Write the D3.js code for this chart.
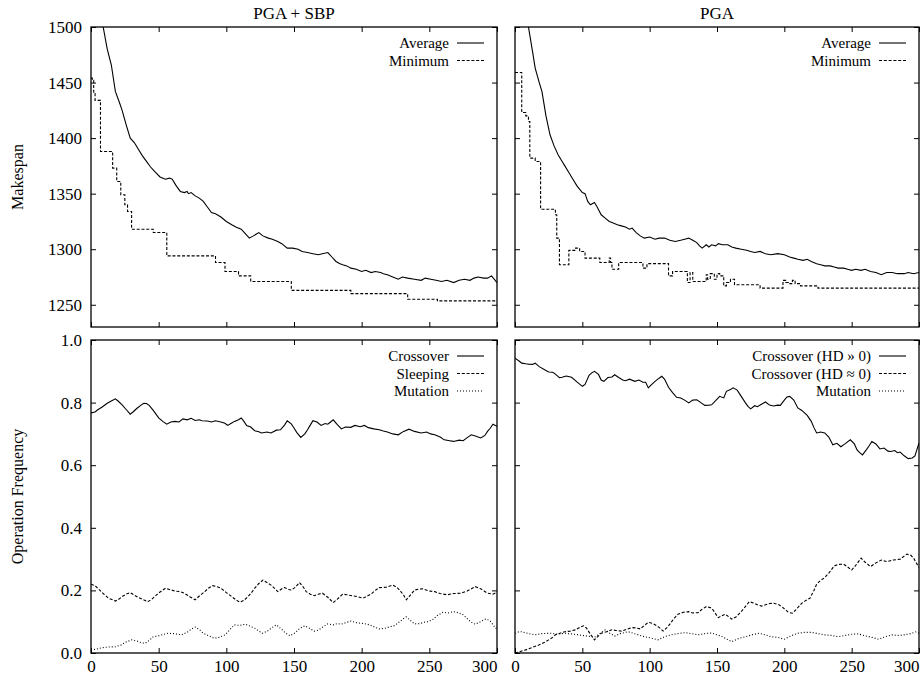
<!DOCTYPE html>
<html>
<head>
<meta charset="utf-8">
<title>PGA + SBP vs PGA</title>
<style>
	body { margin: 0; background: #fff; }
	svg text { font-family: 'Liberation Serif', 'Times New Roman', serif; fill: #000; }
</style>
</head>
<body>
<svg width="921" height="679"></svg>
<script src="https://d3js.org/d3.v7.min.js"></script>
<script>

// ---- data ----
const genTicks = [0, 50, 100, 150, 200, 250, 300];
const makespanTicks = [1250, 1300, 1350, 1400, 1450, 1500];
const freqTicks = [0, 0.2, 0.4, 0.6, 0.8, 1.0];

const sbpAverage = [[0,1660],[4,1570],[7,1520],[9,1500],[12,1480],[15,1466],[18,1442],[21,1432],[23,1425],[26,1412],[29,1400],[32,1396],[35,1390],[38,1384],[41,1379],[44,1374],[47,1370],[51,1365],[55,1363],[58,1364],[60,1363],[63,1357],[66,1352],[69,1351],[71,1352],[72,1350],[74,1351],[77,1348],[80,1346],[83,1343],[86,1338],[89,1333],[92,1332],[96,1329],[100,1325],[104,1322],[107,1320],[111,1318],[114,1314],[117,1310],[120,1312],[124,1315],[127,1312],[131,1310],[134,1309],[138,1307],[141,1305],[145,1301],[149,1301],[153,1300],[156,1298],[160,1297],[164,1296],[168,1295],[171,1296],[175,1297],[178,1293],[181,1289],[184,1287],[186,1286],[189,1285],[192,1283],[196,1282],[200,1280],[203,1281],[207,1279],[210,1280],[214,1279],[216,1278],[219,1277],[223,1275],[227,1273],[230,1275],[234,1274],[239,1273],[244,1272],[247,1274],[251,1273],[255,1272],[259,1271],[263,1272],[268,1270],[272,1272],[276,1273],[280,1272],[283,1274],[286,1275],[290,1274],[293,1274],[296,1276],[300,1270]];

const sbpMinimum = [[0,1454],[1,1452],[2,1440],[3,1434],[6,1434],[7,1388],[15,1388],[16,1373],[19,1361],[22,1349],[25,1340],[27,1334],[30,1318],[45,1318],[46,1315],[55,1315],[56,1294],[91,1294],[92,1288],[99,1280],[109,1276],[118,1271],[147,1271],[148,1263],[191,1263],[192,1260],[233,1260],[234,1255],[255,1255],[256,1253.5],[300,1253.5]];

const pgaAverage = [[0,1700],[5,1590],[8,1530],[10,1500],[13,1478],[15,1463],[18,1450],[20,1442],[23,1420],[26,1403],[29,1393],[32,1385],[35,1379],[37,1375],[40,1369],[43,1363],[46,1357],[50,1351],[52,1350],[54,1343],[56,1340],[59,1342],[61,1338],[64,1331],[67,1328],[70,1325],[72,1324],[76,1322],[79,1321],[82,1320],[85,1318],[87,1319],[90,1315],[93,1312],[96,1310],[100,1311],[104,1309],[107,1310],[111,1310],[115,1308],[119,1307],[123,1308],[126,1309],[129,1310],[132,1308],[135,1306],[137,1303],[139,1301],[142,1304],[144,1302],[146,1304],[149,1303],[151,1305],[154,1304],[158,1304],[161,1302],[164,1301],[168,1300],[172,1299],[175,1298],[178,1297],[182,1298],[186,1296],[190,1295],[195,1296],[200,1295],[204,1293],[207,1292],[210,1291],[214,1290],[217,1291],[220,1289],[224,1287],[227,1286],[230,1285],[234,1285],[237,1284],[240,1283],[244,1283],[247,1282],[250,1281],[253,1282],[257,1281],[260,1282],[264,1280],[268,1279],[272,1277],[276,1279],[280,1279],[284,1278],[289,1278],[292,1279],[296,1278],[300,1279]];

const pgaMinimum = [[0,1459],[5,1423],[8,1420],[10,1415],[11,1382],[15,1379],[19,1336],[30,1331],[31,1310],[33,1286],[38,1286],[40,1299],[45,1301],[48,1298],[52,1292],[63,1288],[70,1292],[71,1288],[72,1282],[77,1288],[94,1288],[95,1283],[98,1287],[111,1287],[114,1276],[117,1280],[126,1280],[128,1270],[130,1279],[132,1271],[141,1271],[142,1277],[143,1273],[145,1278],[148,1273],[150,1278],[152,1276],[155,1267],[157,1270],[160,1273],[163,1268],[182,1265],[199,1272],[201,1270],[203,1269],[206,1272],[208,1269],[212,1267],[225,1265],[300,1265]];

const sbpCrossover = [[0,0.767],[3,0.770],[5,0.777],[8,0.785],[12,0.798],[15,0.805],[18,0.812],[20,0.805],[23,0.793],[26,0.778],[29,0.763],[31,0.770],[34,0.782],[37,0.792],[39,0.798],[41,0.797],[43,0.791],[46,0.775],[50,0.751],[53,0.740],[56,0.731],[59,0.738],[62,0.740],[65,0.738],[68,0.748],[71,0.745],[74,0.750],[77,0.743],[80,0.745],[82,0.742],[86,0.741],[89,0.738],[92,0.742],[96,0.738],[99,0.734],[101,0.727],[104,0.735],[106,0.740],[109,0.745],[111,0.751],[113,0.740],[115,0.727],[118,0.722],[121,0.710],[124,0.707],[126,0.703],[130,0.706],[133,0.703],[137,0.712],[140,0.713],[143,0.728],[145,0.742],[148,0.732],[150,0.719],[152,0.705],[155,0.689],[158,0.700],[160,0.713],[162,0.728],[164,0.742],[167,0.738],[170,0.727],[173,0.733],[175,0.731],[177,0.738],[179,0.745],[182,0.730],[185,0.716],[188,0.722],[192,0.721],[195,0.727],[199,0.723],[202,0.727],[205,0.720],[209,0.716],[213,0.713],[216,0.709],[219,0.706],[223,0.700],[227,0.697],[231,0.708],[235,0.715],[239,0.708],[244,0.703],[248,0.706],[251,0.700],[254,0.697],[258,0.690],[261,0.681],[265,0.678],[268,0.676],[272,0.680],[275,0.678],[278,0.688],[281,0.697],[284,0.693],[288,0.687],[291,0.695],[293,0.708],[295,0.718],[297,0.731],[300,0.724]];

const sbpSleeping = [[0,0.220],[3,0.215],[5,0.207],[9,0.190],[13,0.175],[16,0.170],[18,0.166],[21,0.173],[23,0.180],[26,0.188],[29,0.193],[32,0.185],[35,0.177],[38,0.172],[42,0.164],[45,0.172],[47,0.180],[51,0.195],[55,0.207],[58,0.203],[62,0.198],[66,0.196],[69,0.191],[73,0.180],[77,0.170],[80,0.182],[84,0.196],[87,0.208],[90,0.215],[93,0.212],[96,0.207],[100,0.193],[104,0.180],[107,0.170],[110,0.162],[113,0.168],[116,0.180],[119,0.195],[121,0.207],[124,0.222],[127,0.233],[130,0.225],[133,0.217],[136,0.205],[138,0.196],[141,0.205],[143,0.209],[146,0.203],[148,0.201],[151,0.210],[154,0.225],[157,0.210],[159,0.196],[162,0.188],[165,0.183],[168,0.188],[171,0.191],[175,0.178],[179,0.161],[182,0.172],[186,0.188],[189,0.186],[193,0.183],[197,0.180],[201,0.175],[204,0.182],[207,0.188],[210,0.200],[213,0.209],[218,0.210],[223,0.217],[226,0.210],[228,0.201],[231,0.185],[233,0.170],[236,0.185],[239,0.201],[242,0.204],[245,0.205],[250,0.198],[254,0.196],[258,0.190],[263,0.186],[268,0.190],[273,0.191],[278,0.198],[284,0.212],[288,0.205],[293,0.191],[297,0.188],[300,0.194]];

const sbpMutation = [[0,0.010],[4,0.012],[8,0.017],[13,0.019],[18,0.020],[22,0.025],[26,0.035],[30,0.042],[34,0.038],[37,0.033],[40,0.031],[43,0.040],[46,0.052],[50,0.055],[54,0.060],[57,0.063],[61,0.062],[64,0.060],[67,0.058],[71,0.066],[74,0.076],[77,0.083],[80,0.075],[83,0.063],[87,0.055],[91,0.047],[95,0.050],[99,0.058],[102,0.072],[106,0.090],[110,0.088],[114,0.092],[118,0.085],[121,0.079],[124,0.070],[127,0.063],[131,0.072],[134,0.082],[137,0.090],[141,0.075],[144,0.063],[147,0.055],[151,0.065],[154,0.078],[158,0.087],[161,0.080],[165,0.070],[168,0.073],[172,0.085],[175,0.093],[179,0.090],[182,0.094],[185,0.092],[189,0.098],[192,0.102],[196,0.097],[199,0.095],[202,0.094],[206,0.090],[210,0.082],[213,0.077],[217,0.079],[221,0.084],[224,0.087],[228,0.100],[231,0.110],[233,0.115],[236,0.104],[239,0.093],[243,0.094],[246,0.098],[249,0.100],[253,0.108],[256,0.120],[260,0.130],[264,0.128],[268,0.132],[272,0.128],[275,0.122],[278,0.110],[281,0.098],[284,0.092],[287,0.098],[290,0.106],[292,0.109],[295,0.102],[299,0.079],[300,0.079]];

const pgaCrossoverHigh = [[0,0.942],[3,0.933],[5,0.926],[8,0.924],[10,0.923],[13,0.922],[15,0.926],[18,0.915],[22,0.905],[25,0.898],[28,0.897],[30,0.891],[33,0.880],[35,0.881],[38,0.885],[42,0.881],[46,0.866],[50,0.852],[52,0.858],[55,0.887],[57,0.895],[59,0.900],[62,0.890],[64,0.872],[66,0.868],[69,0.880],[72,0.882],[74,0.889],[77,0.880],[80,0.872],[82,0.870],[85,0.875],[89,0.868],[92,0.872],[95,0.865],[97,0.865],[99,0.847],[101,0.856],[104,0.868],[107,0.878],[109,0.884],[111,0.875],[114,0.849],[117,0.832],[120,0.817],[123,0.815],[126,0.808],[129,0.799],[132,0.808],[135,0.809],[138,0.800],[141,0.791],[144,0.792],[146,0.793],[149,0.806],[152,0.820],[155,0.815],[157,0.836],[160,0.842],[162,0.847],[165,0.840],[168,0.820],[171,0.800],[173,0.788],[175,0.780],[178,0.790],[180,0.787],[183,0.795],[186,0.802],[189,0.792],[192,0.789],[195,0.792],[197,0.791],[200,0.808],[202,0.818],[204,0.820],[207,0.808],[210,0.783],[213,0.775],[217,0.759],[220,0.740],[222,0.720],[224,0.703],[227,0.706],[230,0.703],[233,0.690],[236,0.665],[239,0.670],[242,0.659],[245,0.668],[249,0.681],[252,0.668],[254,0.649],[256,0.640],[258,0.633],[261,0.650],[263,0.662],[265,0.676],[268,0.668],[271,0.652],[274,0.655],[277,0.645],[279,0.644],[282,0.647],[284,0.640],[286,0.642],[289,0.630],[292,0.621],[295,0.623],[297,0.630],[300,0.671]];

const pgaCrossoverLow = [[0,0.000],[4,0.005],[8,0.010],[13,0.018],[18,0.026],[22,0.034],[25,0.042],[28,0.050],[30,0.058],[34,0.064],[37,0.068],[41,0.070],[45,0.074],[48,0.082],[51,0.087],[53,0.080],[56,0.060],[59,0.042],[62,0.055],[64,0.063],[68,0.068],[72,0.074],[75,0.072],[79,0.070],[83,0.076],[87,0.081],[90,0.080],[93,0.077],[96,0.088],[99,0.098],[102,0.095],[104,0.090],[107,0.082],[110,0.070],[113,0.082],[115,0.092],[118,0.110],[121,0.124],[125,0.130],[129,0.132],[132,0.128],[136,0.129],[139,0.140],[142,0.148],[145,0.145],[147,0.138],[149,0.125],[151,0.113],[154,0.120],[156,0.124],[159,0.115],[161,0.108],[164,0.115],[168,0.132],[171,0.148],[174,0.164],[177,0.160],[180,0.154],[183,0.150],[186,0.154],[189,0.158],[192,0.159],[196,0.154],[199,0.145],[203,0.130],[206,0.127],[209,0.140],[213,0.159],[216,0.168],[219,0.175],[222,0.200],[224,0.220],[227,0.232],[230,0.241],[233,0.255],[237,0.278],[240,0.283],[244,0.284],[247,0.275],[250,0.265],[253,0.280],[257,0.303],[260,0.290],[264,0.276],[268,0.288],[272,0.297],[276,0.292],[281,0.297],[286,0.300],[291,0.316],[294,0.312],[296,0.303],[300,0.273]];

const pgaMutation = [[0,0.063],[3,0.068],[5,0.068],[10,0.062],[15,0.058],[20,0.062],[27,0.063],[32,0.060],[37,0.063],[42,0.061],[47,0.058],[52,0.055],[56,0.053],[59,0.050],[63,0.062],[67,0.074],[70,0.064],[74,0.054],[78,0.062],[84,0.068],[90,0.060],[96,0.052],[101,0.048],[106,0.042],[111,0.052],[116,0.058],[121,0.062],[126,0.065],[131,0.062],[136,0.058],[141,0.062],[146,0.064],[150,0.058],[153,0.054],[157,0.045],[161,0.036],[166,0.046],[171,0.052],[176,0.058],[181,0.063],[186,0.058],[190,0.052],[195,0.050],[200,0.044],[205,0.055],[210,0.063],[215,0.066],[220,0.066],[225,0.062],[230,0.058],[235,0.056],[240,0.052],[245,0.056],[250,0.060],[255,0.061],[260,0.055],[265,0.050],[270,0.044],[275,0.052],[280,0.058],[285,0.056],[289,0.058],[294,0.062],[298,0.068],[300,0.063]];

// ---- layout ----
const dashes = { solid: null, dashed: '3,1.8', dotted: '1,2' };

const panels = [
	{ id: 'tl', x0: 91, x1: 497, y0: 27, y1: 327, yDomain: [1230, 1500], yTicks: makespanTicks, yFmt: d3.format('d'),
	  yLabels: true, xLabels: false, title: 'PGA + SBP', ylabel: 'Makespan',
	  series: [
		{ name: 'Average', data: sbpAverage, style: 'solid', step: false },
		{ name: 'Minimum', data: sbpMinimum, style: 'dashed', step: true }
	  ] },
	{ id: 'tr', x0: 515, x1: 919, y0: 27, y1: 327, yDomain: [1230, 1500], yTicks: makespanTicks, yFmt: d3.format('d'),
	  yLabels: false, xLabels: false, title: 'PGA',
	  series: [
		{ name: 'Average', data: pgaAverage, style: 'solid', step: false },
		{ name: 'Minimum', data: pgaMinimum, style: 'dashed', step: true }
	  ] },
	{ id: 'bl', x0: 91, x1: 497, y0: 340, y1: 653, yDomain: [0, 1], yTicks: freqTicks, yFmt: d3.format('.1f'),
	  yLabels: true, xLabels: true, ylabel: 'Operation Frequency',
	  series: [
		{ name: 'Crossover', data: sbpCrossover, style: 'solid' },
		{ name: 'Sleeping', data: sbpSleeping, style: 'dashed' },
		{ name: 'Mutation', data: sbpMutation, style: 'dotted' }
	  ] },
	{ id: 'br', x0: 515, x1: 919, y0: 340, y1: 653, yDomain: [0, 1], yTicks: freqTicks, yFmt: d3.format('.1f'),
	  yLabels: false, xLabels: true,
	  series: [
		{ name: 'Crossover (HD \u00bb 0)', data: pgaCrossoverHigh, style: 'solid' },
		{ name: 'Crossover (HD \u2248 0)', data: pgaCrossoverLow, style: 'dashed' },
		{ name: 'Mutation', data: pgaMutation, style: 'dotted' }
	  ] }
];

const svg = d3.select('svg');
const defs = svg.append('defs');

panels.forEach(p => {
	const x = d3.scaleLinear().domain([0, 300]).range([p.x0, p.x1]);
	const y = d3.scaleLinear().domain(p.yDomain).range([p.y1, p.y0]);

	defs.append('clipPath').attr('id', 'clip-' + p.id)
		.append('rect')
		.attr('x', p.x0).attr('y', p.y0)
		.attr('width', p.x1 - p.x0).attr('height', p.y1 - p.y0);

	const g = svg.append('g');

	// axes, ticks pointing inward on all four sides
	const bottom = g.append('g').attr('transform', `translate(0,${p.y1})`)
		.call(d3.axisBottom(x).tickValues(genTicks).tickSize(-5).tickSizeOuter(0).tickPadding(7)
			.tickFormat(p.xLabels ? d3.format('d') : ''));
	g.append('g').attr('transform', `translate(0,${p.y0})`)
		.call(d3.axisTop(x).tickValues(genTicks).tickSize(-5).tickSizeOuter(0).tickFormat(''));
	g.append('g').attr('transform', `translate(${p.x0},0)`)
		.call(d3.axisLeft(y).tickValues(p.yTicks).tickSize(-5).tickSizeOuter(0).tickPadding(9)
			.tickFormat(p.yLabels ? p.yFmt : ''));
	g.append('g').attr('transform', `translate(${p.x1},0)`)
		.call(d3.axisRight(y).tickValues(p.yTicks).tickSize(-5).tickSizeOuter(0).tickFormat(''));

	g.selectAll('.domain').remove();
	g.selectAll('.tick line').attr('stroke', '#000').attr('stroke-width', 1);
	g.selectAll('.tick text')
		.attr('font-family', "'Liberation Serif', serif")
		.attr('font-size', 17)
		.attr('fill', '#000');

	// last x label sits flush with the right border
	if (p.xLabels) {
		bottom.selectAll('.tick text').filter(d => d === 300)
			.attr('text-anchor', 'end').attr('x', 0);
	}

	// frame
	g.append('rect')
		.attr('x', p.x0).attr('y', p.y0)
		.attr('width', p.x1 - p.x0).attr('height', p.y1 - p.y0)
		.attr('fill', 'none').attr('stroke', '#000').attr('stroke-width', 1.3);

	// series
	const lines = g.append('g').attr('clip-path', `url(#clip-${p.id})`);
	p.series.forEach(s => {
		const line = d3.line()
			.x(d => x(d[0]))
			.y(d => y(d[1]))
			.curve(s.step ? d3.curveStepAfter : d3.curveLinear);
		lines.append('path')
			.datum(s.data)
			.attr('d', line)
			.attr('fill', 'none')
			.attr('stroke', '#000')
			.attr('stroke-width', 1.1)
			.attr('stroke-dasharray', dashes[s.style]);
	});

	// legend (key at top right, gnuplot style)
	const rowH = 17.5;
	p.series.forEach((s, i) => {
		const by = p.y0 + 21 + i * rowH;
		g.append('text')
			.attr('x', p.x1 - 48).attr('y', by)
			.attr('text-anchor', 'end')
			.attr('font-size', 15)
			.text(s.name);
		g.append('line')
			.attr('x1', p.x1 - 40).attr('x2', p.x1 - 13)
			.attr('y1', by - 5).attr('y2', by - 5)
			.attr('stroke', '#000').attr('stroke-width', 1.1)
			.attr('stroke-dasharray', dashes[s.style]);
	});

	if (p.title) {
		svg.append('text')
			.attr('x', (p.x0 + p.x1) / 2).attr('y', 18.5)
			.attr('text-anchor', 'middle')
			.attr('font-size', 17)
			.text(p.title);
	}

	if (p.ylabel) {
		svg.append('text')
			.attr('transform', `translate(23,${(p.y0 + p.y1) / 2}) rotate(-90)`)
			.attr('text-anchor', 'middle')
			.attr('font-size', 16)
			.text(p.ylabel);
	}
});

</script>
</body>
</html>
